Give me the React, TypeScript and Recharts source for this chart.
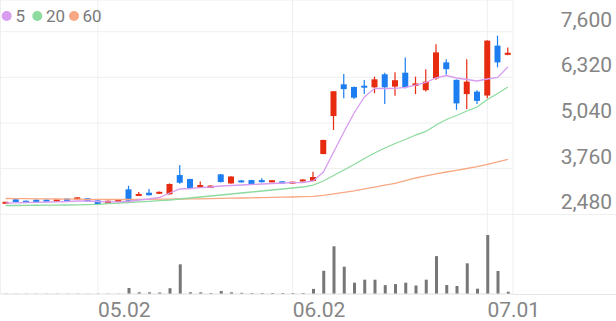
import { ComposedChart, Bar, Line, XAxis, YAxis, CartesianGrid } from 'recharts';

const dates = [
  '04.18', '04.21', '04.22', '04.23', '04.24', '04.25', '04.28', '04.29', '04.30', '05.02',
  '05.07', '05.08', '05.09', '05.12', '05.13', '05.14', '05.15', '05.16', '05.19', '05.20',
  '05.21', '05.22', '05.23', '05.26', '05.27', '05.28', '05.29', '05.30', '06.02', '06.04',
  '06.05', '06.09', '06.10', '06.11', '06.12', '06.13', '06.16', '06.17', '06.18', '06.19',
  '06.20', '06.23', '06.24', '06.25', '06.26', '06.27', '06.30', '07.01', '07.02', '07.03',
];

const opens = [
  2780, 2900, 2860, 2890, 2890, 2850, 2920, 2900, 2930, 2870,
  2775, 2825, 3180, 2995, 3085, 3055, 3040, 3580, 3470, 3230,
  3220, 3600, 3345, 3430, 3440, 3440, 3375, 3405, 3350, 3405,
  3415, 4170, 5235, 6125, 6050, 6085, 6040, 6405, 6060, 6450,
  6080, 5960, 6290, 6740, 6250, 5850, 5920, 5810, 7210, 6950,
];
const highs = [
  2830, 2905, 2865, 2895, 2895, 2890, 2925, 2960, 2935, 2875,
  2865, 2885, 3280, 3105, 3190, 3120, 3345, 3865, 3480, 3400,
  3290, 3610, 3550, 3440, 3450, 3490, 3440, 3410, 3390, 3460,
  3675, 4570, 5935, 6415, 6060, 6245, 6340, 6450, 6460, 6880,
  6340, 6550, 7250, 6830, 6260, 6830, 5960, 7360, 7490, 7160,
];
const lows = [
  2775, 2820, 2800, 2820, 2825, 2845, 2850, 2895, 2840, 2755,
  2770, 2820, 2855, 2990, 3010, 3050, 3035, 3340, 3185, 3225,
  3215, 3375, 3340, 3370, 3315, 3375, 3370, 3335, 3345, 3400,
  3410, 4165, 4845, 5735, 5710, 5855, 5875, 5575, 5805, 6010,
  5850, 5920, 6250, 6390, 5410, 5430, 5570, 5735, 6600, 6940,
];
const closes = [
  2825, 2825, 2805, 2825, 2830, 2885, 2855, 2955, 2845, 2760,
  2860, 2880, 2860, 3050, 3015, 3110, 3330, 3365, 3190, 3300,
  3285, 3385, 3540, 3375, 3320, 3380, 3435, 3340, 3385, 3450,
  3525, 4565, 5930, 5990, 5750, 6030, 6265, 6040, 6240, 6040,
  6150, 6200, 7020, 6550, 5590, 6200, 5660, 7350, 6740, 7010,
];

// volume, thousand shares
const volumes = [
  5, 4, 5, 4, 5, 6, 5, 6, 5, 7,
  6, 5, 120, 34, 34, 30, 116, 594, 34, 34,
  20, 60, 34, 24, 20, 20, 20, 20, 20, 20,
  102, 464, 954, 546, 226, 286, 286, 178, 198, 226,
  170, 286, 758, 180, 160, 614, 106, 1180, 460, 46,
];

const ma5 = [
  2797, 2802, 2811, 2816, 2825, 2830, 2839, 2853, 2853, 2839,
  2830, 2830, 2839, 2881, 2909, 2951, 3077, 3189, 3203, 3226,
  3245, 3273, 3287, 3301, 3315, 3330, 3344, 3358, 3366, 3372,
  3414, 3666, 4227, 4788, 5320, 5769, 6013, 6007, 6013, 6041,
  6105, 6176, 6302, 6372, 6302, 6260, 6218, 6274, 6316, 6610,
];
const ma20 = [
  2727, 2727, 2730, 2733, 2735, 2738, 2741, 2746, 2752, 2760,
  2777, 2794, 2811, 2828, 2845, 2861, 2881, 2909, 2937, 2965,
  2993, 3021, 3049, 3077, 3105, 3133, 3161, 3189, 3217, 3245,
  3301, 3414, 3568, 3722, 3876, 4045, 4199, 4339, 4465, 4577,
  4703, 4802, 4984, 5138, 5250, 5376, 5489, 5699, 5867, 6049,
];
const ma60 = [
  2923, 2920, 2917, 2915, 2912, 2909, 2906, 2903, 2901, 2898,
  2895, 2895, 2895, 2898, 2901, 2903, 2906, 2909, 2912, 2915,
  2920, 2926, 2931, 2937, 2943, 2948, 2954, 2959, 2965, 2973,
  2985, 3010, 3052, 3094, 3139, 3192, 3243, 3296, 3346, 3425,
  3498, 3557, 3613, 3666, 3714, 3764, 3815, 3882, 3952, 4017,
];

const dateTicks = ['05.02', '06.02', '07.01'];
const priceTicks = [2480, 3760, 5040, 6320, 7600];
const maLabels = ['5', '20', '60'];

const RED = '#e62b10';
const BLUE = '#1c7ef0';
const MA_COLORS = ['#d89cf0', '#8ddb9f', '#f8a882'];
const TEXT = '#858585';
const GRID = '#efefef';
const FONT = 'Roboto, sans-serif';

const rows = dates.map((date, i) => ({
  date,
  open: opens[i],
  high: highs[i],
  low: lows[i],
  close: closes[i],
  volume: volumes[i],
  ma5: ma5[i],
  ma20: ma20[i],
  ma60: ma60[i],
}));

const Candle = (props: any) => {
  const { x, y, width, height, payload } = props;
  if (x == null || y == null) return null;
  const { open, close, high, low } = payload;
  const color = close >= open ? RED : BLUE;
  const top = Math.min(y, y + height);
  const h = Math.abs(height);
  const cx = x + width / 2;
  const span = high - low;
  const toY = (v: number) => (span === 0 ? top : top + ((high - v) / span) * h);
  const bTop = toY(Math.max(open, close));
  const bBot = toY(Math.min(open, close));
  const bh = Math.max(bBot - bTop, 2);
  return (
    <g>
      <line x1={cx} x2={cx} y1={top} y2={top + h} stroke={color} strokeWidth={1.2} />
      <rect x={x} y={bTop - (bh - (bBot - bTop)) / 2} width={width} height={bh} fill={color} />
    </g>
  );
};

const DateTick = ({ x, y, payload }: any) => (
  <text x={x} y={y + 15} textAnchor="start" fontSize={21} fill={TEXT} fontFamily={FONT}>
    {payload.value}
  </text>
);

const PriceTick = ({ y, payload }: any) => (
  <text x={612} y={y - 5} textAnchor="end" fontSize={21} fill={TEXT} fontFamily={FONT}>
    {payload.value.toLocaleString('en-US')}
  </text>
);

const legendPos = [
  { cx: 6.7, tx: 15.5 },
  { cx: 37.3, tx: 46 },
  { cx: 74, tx: 82.5 },
];

export default function App() {
  return (
    <div style={{ position: 'absolute', left: 0, top: 0, width: 616, height: 321, background: '#fff', fontFamily: FONT }}>
      <ComposedChart
        width={616}
        height={321}
        data={rows}
        margin={{ top: 0, right: 0, bottom: 0, left: 0.5 }}
      >
        <CartesianGrid xAxisId="p" yAxisId="price" stroke={GRID} strokeWidth={1} />
        <XAxis
          xAxisId="p"
          dataKey="date"
          ticks={dateTicks}
          interval={0}
          height={27}
          tickLine={false}
          tickSize={0}
          tickMargin={8}
          axisLine={{ stroke: '#e6e6e6' }}
          tick={<DateTick />}
        />
        <XAxis xAxisId="v" dataKey="date" hide />
        <YAxis
          yAxisId="price"
          orientation="right"
          width={103}
          domain={[245, 8489]}
          ticks={priceTicks}
          allowDataOverflow
          axisLine={false}
          tickLine={false}
          tick={<PriceTick />}
        />
        <YAxis yAxisId="vol" hide domain={[0, 5880]} allowDataOverflow />
        <Bar xAxisId="v" yAxisId="vol" dataKey="volume" fill="#767676" barSize={3} isAnimationActive={false} />
        <Line xAxisId="p" yAxisId="price" dataKey="ma60" stroke={MA_COLORS[2]} strokeWidth={1.3} dot={false} activeDot={false} isAnimationActive={false} />
        <Line xAxisId="p" yAxisId="price" dataKey="ma20" stroke={MA_COLORS[1]} strokeWidth={1.3} dot={false} activeDot={false} isAnimationActive={false} />
        <Line xAxisId="p" yAxisId="price" dataKey="ma5" stroke={MA_COLORS[0]} strokeWidth={1.3} dot={false} activeDot={false} isAnimationActive={false} />
        <Bar
          xAxisId="p"
          yAxisId="price"
          dataKey={(d: any) => [d.low, d.high]}
          barSize={6}
          shape={<Candle />}
          isAnimationActive={false}
        />
      </ComposedChart>
      <div style={{ position: 'absolute', left: 513, top: 214, width: 103, height: 1, background: GRID }} />
      <div style={{ position: 'absolute', left: 513, top: 293.5, width: 103, height: 1, background: '#e6e6e6' }} />
      <svg width={120} height={30} style={{ position: 'absolute', left: 0, top: 0 }}>
        {maLabels.map((label, i) => (
          <g key={label}>
            <circle cx={legendPos[i].cx} cy={16} r={5} fill={MA_COLORS[i]} />
            <text x={legendPos[i].tx} y={21.8} fontSize={17} fill="#7a7a7a" fontFamily={FONT}>
              {label}
            </text>
          </g>
        ))}
      </svg>
    </div>
  );
}
